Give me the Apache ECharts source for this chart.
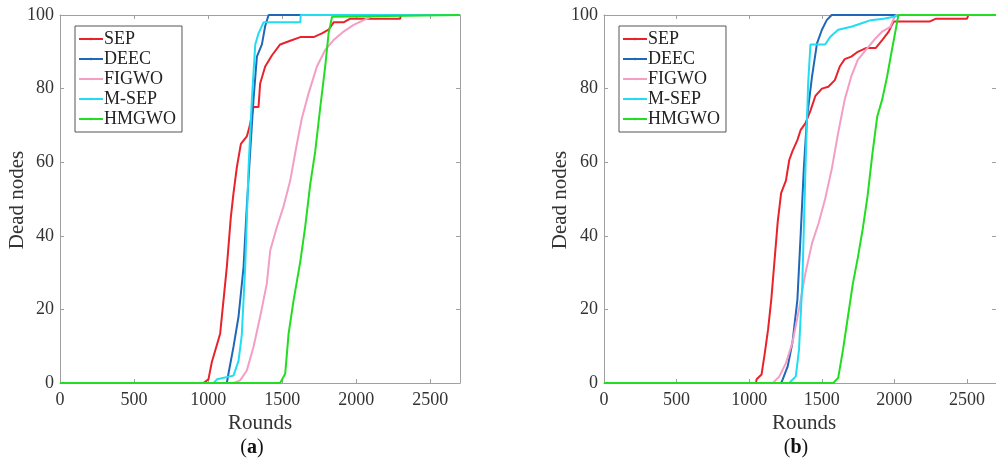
<!DOCTYPE html>
<html>
<head>
<meta charset="utf-8">
<script src="https://cdn.jsdelivr.net/npm/echarts@6/dist/echarts.min.js"></script>
<style>
html,body{margin:0;padding:0;background:#fff;}
#c{width:996px;height:468px;}
</style>
</head>
<body>
<div id="c"></div>
<script>
// ---- data (rounds, dead nodes) ----
var seriesNames = ['SEP', 'DEEC', 'FIGWO', 'M-SEP', 'HMGWO'];
var xTicks = [0, 500, 1000, 1500, 2000, 2500];
var yTicks = [0, 20, 40, 60, 80, 100];

// panel (a)
var sepA = [[0,0],[968,0],[1002,1],[1025,5.7],[1081,13.4],[1126,31.5],[1153,45],[1171,51.5],[1194,58.7],[1221,65],[1261,67],[1279,69.6],[1306,75],[1340,75],[1351,81.4],[1385,86],[1430,89],[1486,92],[1554,93],[1622,94],[1712,94],[1768,95],[1813,96],[1847,98],[1914,98],[1959,99],[2297,99],[2300,100],[2700,100]];
var deecA = [[0,0],[1126,0],[1137,2.5],[1171,9.8],[1205,18],[1239,31.5],[1261,48],[1284,63],[1306,77],[1329,88.7],[1363,92],[1385,97],[1408,100],[2700,100]];
var figwoA = [[0,0],[1171,0],[1216,0.7],[1261,3.4],[1306,9.8],[1351,18],[1396,27],[1419,36],[1464,42.4],[1509,48],[1554,55],[1599,65],[1633,72],[1678,78.7],[1734,86],[1790,90.5],[1847,93.2],[1914,95.5],[1982,97.3],[2050,98.6],[2095,99.5],[2120,100],[2700,100]];
var msepA = [[0,0],[1036,0],[1060,1],[1171,2],[1205,6],[1227,13],[1250,31.5],[1273,58.7],[1295,77],[1318,92],[1340,95],[1374,98],[1622,98],[1625,100],[2700,100]];
var hmgwoA = [[0,0],[1486,0],[1520,2.5],[1543,13.4],[1577,22.5],[1622,33],[1655,42.4],[1689,54],[1723,63],[1757,75],[1790,86],[1813,95],[1836,99.5],[1845,100],[2700,100]];

// panel (b)
var sepB = [[0,0],[1047,0],[1051,1],[1085,2.3],[1107,8],[1130,14.5],[1152,22.6],[1175,33.5],[1197,44],[1220,51.6],[1253,55],[1276,60.6],[1298,63],[1332,66],[1355,68.8],[1388,70.6],[1422,74],[1456,78],[1501,80],[1545,80.5],[1590,82.3],[1624,86],[1658,88],[1703,88.7],[1748,90],[1804,91],[1871,91],[1916,93.2],[1961,95.5],[1983,97.3],[1995,98.2],[2242,98.2],[2287,99],[2500,99],[2510,100],[2700,100]];
var deecB = [[0,0],[1220,0],[1231,1],[1265,4.5],[1298,11],[1332,22.6],[1355,40.7],[1377,58.8],[1399,72.4],[1433,83.3],[1467,92.3],[1501,96],[1534,98.6],[1568,100],[2700,100]];
var figwoB = [[0,0],[1163,0],[1208,1.8],[1253,5.4],[1298,11],[1343,20],[1388,30],[1433,38],[1478,43.4],[1523,50],[1568,58],[1613,68],[1658,77],[1703,83.3],[1748,87.8],[1804,90.5],[1860,93.2],[1916,95.5],[1972,96.8],[1995,99],[2013,100],[2700,100]];
var msepB = [[0,0],[1276,0],[1321,1.8],[1343,9],[1366,27],[1388,58.8],[1406,81.4],[1422,92],[1523,92],[1557,94],[1613,96],[1703,96.8],[1770,97.7],[1837,98.6],[1927,99],[1995,99.5],[2028,100],[2700,100]];
var hmgwoB = [[0,0],[1579,0],[1613,1.4],[1646,9],[1680,18],[1714,27],[1748,34],[1781,41.6],[1815,50.7],[1849,62.4],[1882,72.4],[1916,77],[1950,83.3],[1983,90.5],[2013,96.8],[2028,100],[2700,100]];

var colors = ['#e8232b', '#1f68b8', '#f59ec4', '#22dcf2', '#22dd22'];
var panelA = [sepA, deecA, figwoA, msepA, hmgwoA];
var panelB = [sepB, deecB, figwoB, msepB, hmgwoB];

var chart = echarts.init(document.getElementById('c'), null, {renderer: 'canvas'});
var serif = '"Liberation Serif", "DejaVu Serif", serif';
var axisGray = '#a0a0a0';

function xAx(gi, pos) {
  var bottom = pos === 'bottom';
  return {
    type: 'value', gridIndex: gi, position: pos, min: 0, max: 2700, interval: 500,
    axisLine: {show: true, onZero: false, lineStyle: {color: axisGray, width: 1}},
    axisTick: {show: true, inside: true, length: 4, lineStyle: {color: axisGray}},
    axisLabel: {show: bottom, showMaxLabel: false, color: '#333', fontFamily: serif, fontSize: 18, margin: 8,
      formatter: function (v) { return xTicks.indexOf(v) >= 0 ? String(v) : ''; }},
    splitLine: {show: false}
  };
}
function yAx(gi, pos) {
  var left = pos === 'left';
  return {
    type: 'value', gridIndex: gi, position: pos, min: 0, max: 100, interval: 20,
    axisLine: {show: true, onZero: false, lineStyle: {color: axisGray, width: 1}},
    axisTick: {show: true, inside: true, length: 4, lineStyle: {color: axisGray}},
    axisLabel: {show: left, color: '#333', fontFamily: serif, fontSize: 18, margin: 6,
      formatter: function (v) { return yTicks.indexOf(v) >= 0 ? String(v) : ''; }},
    splitLine: {show: false}
  };
}

var series = [];
[panelA, panelB].forEach(function (panel, gi) {
  panel.forEach(function (data, i) {
    series.push({
      type: 'line', name: seriesNames[i], xAxisIndex: gi * 2, yAxisIndex: gi * 2,
      data: data, showSymbol: false, symbol: 'none', silent: true, animation: false,
      lineStyle: {color: colors[i], width: 2}, itemStyle: {color: colors[i]}, z: 2 + i
    });
  });
});

function legend(left) {
  return {
    orient: 'vertical', left: left, top: 26, itemWidth: 24, itemHeight: 3, itemGap: 0,
    padding: [3, 6, 3, 3], borderColor: '#555', borderWidth: 1, backgroundColor: '#fff',
    data: seriesNames, selectedMode: false,
    textStyle: {fontFamily: serif, fontSize: 18, color: '#222', lineHeight: 20, padding: [0, 0, 0, -4]}
  };
}

var option = {
  animation: false,
  backgroundColor: '#fff',
  grid: [
    {left: 60, top: 15, width: 400, height: 368, containLabel: false},
    {left: 604, top: 15, width: 400.7, height: 368, containLabel: false}
  ],
  xAxis: [xAx(0, 'bottom'), xAx(0, 'top'), xAx(1, 'bottom'), xAx(1, 'top')],
  yAxis: [yAx(0, 'left'), yAx(0, 'right'), yAx(1, 'left'), yAx(1, 'right')],
  legend: [legend(75), legend(619)],
  series: series,
  graphic: [
    {type: 'text', x: 17, y: 200, rotation: Math.PI / 2, style: {text: 'Dead nodes', font: '21px ' + serif, fill: '#333', textAlign: 'center', textVerticalAlign: 'middle'}},
    {type: 'text', x: 260, y: 423, style: {text: 'Rounds', font: '21px ' + serif, fill: '#333', textAlign: 'center', textVerticalAlign: 'middle'}},
    {type: 'text', x: 252, y: 448, style: {text: '({b|a})', font: '20px ' + serif, fill: '#111', textAlign: 'center', textVerticalAlign: 'middle', rich: {b: {fontWeight: 'bold', fontFamily: serif, fontSize: 20, fill: '#111'}}}},
    {type: 'text', x: 560, y: 200, rotation: Math.PI / 2, style: {text: 'Dead nodes', font: '21px ' + serif, fill: '#333', textAlign: 'center', textVerticalAlign: 'middle'}},
    {type: 'text', x: 804, y: 423, style: {text: 'Rounds', font: '21px ' + serif, fill: '#333', textAlign: 'center', textVerticalAlign: 'middle'}},
    {type: 'text', x: 796, y: 448, style: {text: '({b|b})', font: '20px ' + serif, fill: '#111', textAlign: 'center', textVerticalAlign: 'middle', rich: {b: {fontWeight: 'bold', fontFamily: serif, fontSize: 20, fill: '#111'}}}}
  ]
};
chart.setOption(option);
</script>
</body>
</html>
